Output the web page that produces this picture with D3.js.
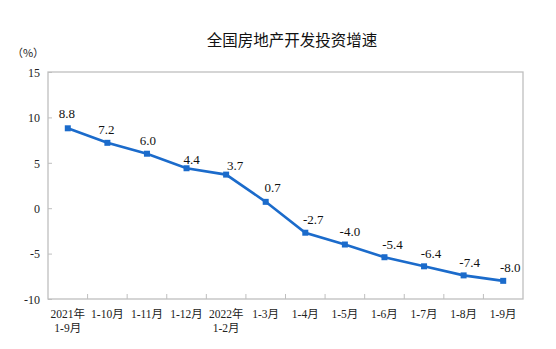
<!DOCTYPE html>
<html><head><meta charset="utf-8">
<script src="https://cdn.jsdelivr.net/npm/d3@7"></script>
<style>body{margin:0;background:#fff}svg{display:block}</style>
</head><body>
<svg id="c" width="556" height="349"></svg>
<script>
const categories = ["2021年\n1-9月","1-10月","1-11月","1-12月","2022年\n1-2月","1-3月","1-4月","1-5月","1-6月","1-7月","1-8月","1-9月"];
const values = [8.8, 7.2, 6.0, 4.4, 3.7, 0.7, -2.7, -4.0, -5.4, -6.4, -7.4, -8.0];
const yTicks = [15, 10, 5, 0, -5, -10];
const labelDx = [-1, -1, 1, 5, 9, 7, 8, 5, 8, 7, 6, 7];
const labelDy = [-15, -13, -13, -9, -9, -14, -13, -13, -13, -13, -13, -13];

const svg = d3.select("#c");
const m = {l:48, r:523, t:72, b:299};
const x = d3.scaleBand().domain(categories).range([m.l, m.r]);
const y = d3.scaleLinear().domain([-10, 15]).range([m.b, m.t]);
const gray = "#bfbfbf";
const serif = "'Liberation Serif','Times New Roman','Noto Sans CJK SC',serif";
const hy = s => s.replace("\u2212", "-");

// frame
svg.append("rect").attr("x", m.l).attr("y", m.t).attr("width", m.r-m.l).attr("height", m.b-m.t)
  .attr("fill","none").attr("stroke", gray).attr("stroke-width", 1.3);

// y axis
const ya = svg.append("g").attr("transform", `translate(${m.l},0)`)
  .call(d3.axisRight(y).tickValues(yTicks).tickSize(4).tickFormat(d => hy(String(d))));
ya.select(".domain").remove();
ya.selectAll("line").attr("stroke", gray);
ya.selectAll("text").attr("x", -8).attr("text-anchor","end").attr("dy","0.35em")
  .style("font-family", serif).style("font-size","12px").attr("fill","#222");

// x axis ticks at band boundaries
svg.append("g").selectAll("line").data(categories.slice(1)).join("line")
  .attr("x1", d => x(d)).attr("x2", d => x(d)).attr("y1", m.b).attr("y2", m.b-5)
  .attr("stroke", gray).attr("stroke-width", 1);
svg.append("g").selectAll("text").data(categories).join("text")
  .attr("x", d => x(d) + x.bandwidth()/2).attr("y", 318)
  .attr("text-anchor","middle").style("font-family", serif).style("font-size","11.5px").attr("fill","#222")
  .each(function(d){
    const parts = d.split("\n");
    d3.select(this).selectAll("tspan").data(parts).join("tspan")
      .attr("x", x(d) + x.bandwidth()/2).attr("dy", (p,i) => i ? 14 : 0).text(p => p);
  });

// line
const cx = (d,i) => x(categories[i]) + x.bandwidth()/2;
const color = "#1b6bcb";
svg.append("path").datum(values)
  .attr("d", d3.line().x(cx).y(d => y(d)))
  .attr("fill","none").attr("stroke", color).attr("stroke-width", 2.6);
svg.append("g").selectAll("rect").data(values).join("rect")
  .attr("x", (d,i) => cx(d,i) - 3).attr("y", d => y(d) - 3).attr("width", 6).attr("height", 6).attr("fill", color);

// data labels
svg.append("g").selectAll("text").data(values).join("text")
  .attr("x", (d,i) => cx(d,i) + labelDx[i]).attr("y", (d,i) => y(d) + labelDy[i])
  .attr("dy","0.35em").attr("text-anchor","middle")
  .style("font-family", serif).style("font-size","13px").attr("fill","#111")
  .text(d => d.toFixed(1));

// title & unit
svg.append("text").attr("x", 292).attr("y", 46).attr("text-anchor","middle")
  .style("font-family","'Noto Sans CJK SC',sans-serif").style("font-size","15.5px").attr("fill","#111")
  .text("全国房地产开发投资增速");
svg.append("text").attr("x", 28).attr("y", 57).attr("text-anchor","middle")
  .style("font-family","'Noto Sans CJK SC',sans-serif").style("font-size","11px").attr("fill","#222")
  .text("（%）");
</script>
</body></html>
